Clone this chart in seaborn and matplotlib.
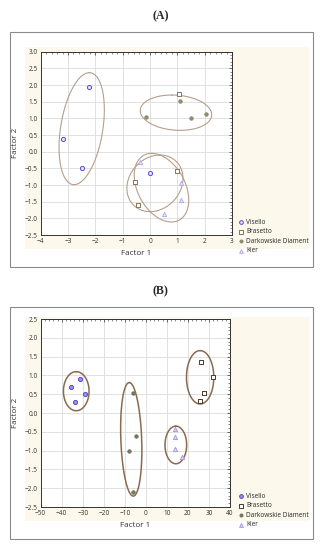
#!/usr/bin/env python3
"""Factor score plots (A) and (B) for four varieties."""

import numpy as np
import matplotlib
matplotlib.use("Agg")
import matplotlib.pyplot as plt
import seaborn as sns
from matplotlib.patches import Rectangle
from matplotlib.ticker import MultipleLocator

varieties = ["Visello", "Brasetto", "Darkowskie Diament", "Kier"]

# ---- panel A scores
a_visello_x = [-2.25, -3.2, -2.5, 0.0]
a_visello_y = [1.93, 0.37, -0.5, -0.65]
a_brasetto_x = [1.05, 1.0, -0.55, -0.45]
a_brasetto_y = [1.72, -0.58, -0.92, -1.6]
a_diament_x = [-0.15, 1.1, 1.5, 2.05]
a_diament_y = [1.05, 1.52, 1.02, 1.12]
a_kier_x = [-0.35, 1.15, 1.15, 0.5]
a_kier_y = [-0.32, -0.95, -1.45, -1.87]

# ellipses: centre, offset from centre to topmost point, half chord through centre
a_ell_cx = [-2.5, 0.95, 0.42, 0.18]
a_ell_cy = [0.69, 1.17, -1.08, -0.95]
a_ell_tx = [0.28, -0.15, -0.36, 0.18]
a_ell_ty = [1.68, 0.53, 1.03, 0.85]
a_ell_w = [0.78, 1.30, 0.93, 1.01]

# ---- panel B scores
b_visello_x = [-31.3, -35.6, -28.8, -33.5]
b_visello_y = [0.90, 0.70, 0.50, 0.30]
b_brasetto_x = [26.2, 27.6, 25.75, 31.8]
b_brasetto_y = [1.36, 0.54, 0.32, 0.95]
b_diament_x = [-6.0, -4.7, -8.0, -6.25]
b_diament_y = [0.52, -0.60, -1.0, -2.09]
b_kier_x = [13.9, 13.9, 13.9, 17.0]
b_kier_y = [-0.43, -0.63, -0.97, -1.16]

b_ell_cx = [-33.1, -6.95, 14.25, 25.8]
b_ell_cy = [0.58, -0.70, -0.85, 0.95]
b_ell_tx = [0.0, -0.95, 0.0, 0.0]
b_ell_ty = [0.52, 1.51, 0.5, 0.71]
b_ell_w = [6.1, 4.96, 5.15, 6.5]

markers = ["o", "s", "o", "^"]
edge_a = ["#5a4ccc", "#8a7358", "#8c8c72", "#b9aee6"]
face_a = ["#e6e2fb", "#ffffff", "#8c8c72", "#ebe7fb"]
edge_b = ["#5a4ccc", "#4a3a2a", "#6e7a5c", "#a99ae0"]
face_b = ["#9c92e6", "#ffffff", "#6e7a5c", "#e2ddf8"]
sizes = [9, 9, 6, 9]

CREAM = "#fcf8eb"


def draw_panel(fig, rect, series, ell, edges, faces, ell_color, ell_lw,
               xlim, ylim, xstep, ystep, xminor, yminor, yfmt):
    ax = fig.add_axes(rect)
    ax.set_zorder(2)
    ax.set_facecolor("white")
    for (xs, ys), name, m, ec, fc, s in zip(series, varieties, markers, edges, faces, sizes):
        sns.scatterplot(x=xs, y=ys, marker=m, s=s, color=ec, edgecolor=ec,
                        linewidth=0.7, label=name, ax=ax, zorder=3)
        ax.collections[-1].set_facecolor(fc)

    t = np.linspace(0, 2 * np.pi, 240)
    for cx, cy, tx, ty, w in zip(*ell):
        ax.plot(cx + tx * np.cos(t) + w * np.sin(t), cy + ty * np.cos(t),
                color=ell_color, lw=ell_lw, zorder=2)

    ax.set_xlim(*xlim)
    ax.set_ylim(*ylim)
    ax.xaxis.set_major_locator(MultipleLocator(xstep))
    ax.yaxis.set_major_locator(MultipleLocator(ystep))
    ax.xaxis.set_minor_locator(MultipleLocator(xminor))
    ax.yaxis.set_minor_locator(MultipleLocator(yminor))
    ax.yaxis.set_major_formatter(yfmt)
    ax.grid(True, which="major", color="#dcdcdc", lw=0.6, zorder=0)
    ax.set_axisbelow(True)
    ax.tick_params(which="both", direction="in", top=True, right=True,
                   labelsize=4.7, colors="#333333", pad=2)
    ax.tick_params(which="major", length=2, width=0.5)
    ax.tick_params(which="minor", length=1.2, width=0.4)
    for sp in ax.spines.values():
        sp.set_color("#333333")
        sp.set_linewidth(0.7)
    ax.set_xlabel("Factor 1", fontsize=5.8, labelpad=4, color="#333333")
    ax.set_ylabel("Factor 2", fontsize=5.8, labelpad=4, color="#333333")
    if ax.get_legend() is not None:
        ax.get_legend().remove()
    return ax


sns.set_style("white")
plt.rcParams["font.family"] = ["Open Sans", "DejaVu Sans"]

fig = plt.figure(figsize=(3.21, 5.50), dpi=100)
W, H = 321.0, 550.0


def px_rect(x0, y0, x1, y1):
    return (x0 / W, 1 - y1 / H, (x1 - x0) / W, (y1 - y0) / H)


# frames and cream backgrounds (behind the axes)
for frame, cream in [((10, 32, 313, 267), (25, 47, 310, 249)),
                     ((10, 307, 313, 539), (25, 317, 310, 521))]:
    cx, cy, cw, ch = px_rect(*cream)
    fig.patches.append(Rectangle((cx, cy), cw, ch, transform=fig.transFigure,
                                 fc=CREAM, ec="none", zorder=-5))
    fx, fy, fw, fh = px_rect(*frame)
    fig.patches.append(Rectangle((fx, fy), fw, fh, transform=fig.transFigure,
                                 fill=False, ec="#8a8a8a", lw=0.8, zorder=-4))

fig.text(0.5, 1 - 16 / H, "(A)", ha="center", va="center", fontsize=8.5,
         fontweight="bold", family="Liberation Serif")
fig.text(0.5, 1 - 291 / H, "(B)", ha="center", va="center", fontsize=8.5,
         fontweight="bold", family="Liberation Serif")

series_a = [(a_visello_x, a_visello_y), (a_brasetto_x, a_brasetto_y),
            (a_diament_x, a_diament_y), (a_kier_x, a_kier_y)]
series_b = [(b_visello_x, b_visello_y), (b_brasetto_x, b_brasetto_y),
            (b_diament_x, b_diament_y), (b_kier_x, b_kier_y)]

ax_a = draw_panel(fig, px_rect(40.7, 51.7, 232, 235), series_a,
                  (a_ell_cx, a_ell_cy, a_ell_tx, a_ell_ty, a_ell_w),
                  edge_a, face_a, "#b59f8c", 0.8,
                  (-4, 3), (-2.5, 3.0), 1, 0.5, 0.2, 0.1, "{x:.1f}")
ax_b = draw_panel(fig, px_rect(40.7, 319, 230, 507), series_b,
                  (b_ell_cx, b_ell_cy, b_ell_tx, b_ell_ty, b_ell_w),
                  edge_b, face_b, "#8a6a50", 1.1,
                  (-50, 40), (-2.5, 2.5), 10, 0.5, 2, 0.1, "{x:.1f}")

for ax, ytop in [(ax_a, 219), (ax_b, 493)]:
    handles, labels = ax.get_legend_handles_labels()
    leg = fig.legend(handles, labels, loc="upper left",
                     bbox_to_anchor=(238 / W, 1 - ytop / H), frameon=False,
                     fontsize=4.7, handlelength=0.8, handletextpad=0.5,
                     labelspacing=0.38, borderpad=0, borderaxespad=0,
                     markerscale=0.9)
    leg.set_zorder(5)

fig.savefig("out.png", dpi=100)
